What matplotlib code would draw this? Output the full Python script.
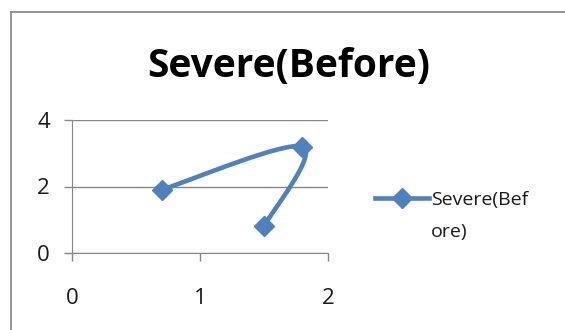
import numpy as np
import matplotlib.pyplot as plt
from matplotlib.lines import Line2D

# Severe(Before) series
xs = [0.7, 1.8, 1.5]
ys = [1.9, 3.2, 0.8]
series_name = 'Severe(Before)'
title = 'Severe(Before)'
xticks = [0, 1, 2]
yticks = [0, 2, 4]

blue = '#4F81BD'
grey = '#868686'


def smooth(px, py, n=40):
    # cubic bezier segments with catmull-rom style control points
    p = np.column_stack([px, py]).astype(float)
    pts = [p[0]]
    for i in range(len(p) - 1):
        p0 = p[i - 1] if i > 0 else p[i]
        p3 = p[i + 2] if i + 2 < len(p) else p[i + 1]
        c1 = p[i] + (p[i + 1] - p0) / 6
        c2 = p[i + 1] - (p3 - p[i]) / 6
        t = np.linspace(0, 1, n)[1:, None]
        seg = ((1 - t) ** 3) * p[i] + 3 * ((1 - t) ** 2) * t * c1 \
            + 3 * (1 - t) * t ** 2 * c2 + t ** 3 * p[i + 1]
        pts.extend(seg)
    pts = np.array(pts)
    return pts[:, 0], pts[:, 1]


plt.rcParams['font.family'] = ['Open Sans', 'DejaVu Sans']

fig = plt.figure(figsize=(5.65, 3.30), dpi=100)
fig.patch.set_facecolor('white')

# outer chart border (left and top edges visible)
bx, by = 10.5 / 565, 1 - 11.5 / 330
fig.add_artist(Line2D([bx, bx], [0, by], transform=fig.transFigure,
                      color='#8c8c8c', lw=1.3))
fig.add_artist(Line2D([bx, 1.01], [by, by], transform=fig.transFigure,
                      color='#8c8c8c', lw=1.3))

ax = fig.add_axes([72 / 565, 77 / 330, 256 / 565, 133 / 330])

sx, sy = smooth(xs, ys)
ax.plot(sx, sy, color=blue, lw=3.3, solid_capstyle='round', zorder=3)
ax.plot(xs, ys, ls='none', marker='D', ms=10, color=blue, zorder=4)

ax.set_xlim(0, 2)
ax.set_ylim(0, 4)
ax.set_xticks(xticks)
ax.set_yticks(yticks)
ax.yaxis.grid(True, color=grey, lw=1)
ax.set_axisbelow(True)
for s in ['top', 'right']:
    ax.spines[s].set_visible(False)
for s in ['left', 'bottom']:
    ax.spines[s].set_color(grey)
ax.tick_params(axis='both', colors=grey, length=6, width=1, labelsize=16,
               labelcolor='#1a1a1a')
ax.tick_params(axis='y', pad=10)
ax.tick_params(axis='x', pad=19)

fig.text(0.51, 0.80, title, ha='center', va='center', fontsize=28,
         fontweight='bold', color='black')

# legend label wraps onto a second row, handle sits on the first
handle = Line2D([], [], color=blue, lw=3.3, marker='D', ms=10)
blank = Line2D([], [], alpha=0)
leg = fig.legend([handle, blank], [series_name[:10], series_name[10:]],
                 loc='center left', bbox_to_anchor=(0.632, 0.345),
                 frameon=False, fontsize=14, handlelength=2.8,
                 handletextpad=0.1, labelspacing=0.75)
for t in leg.get_texts():
    t.set_color('#1a1a1a')

fig.savefig('out.png', dpi=100)
